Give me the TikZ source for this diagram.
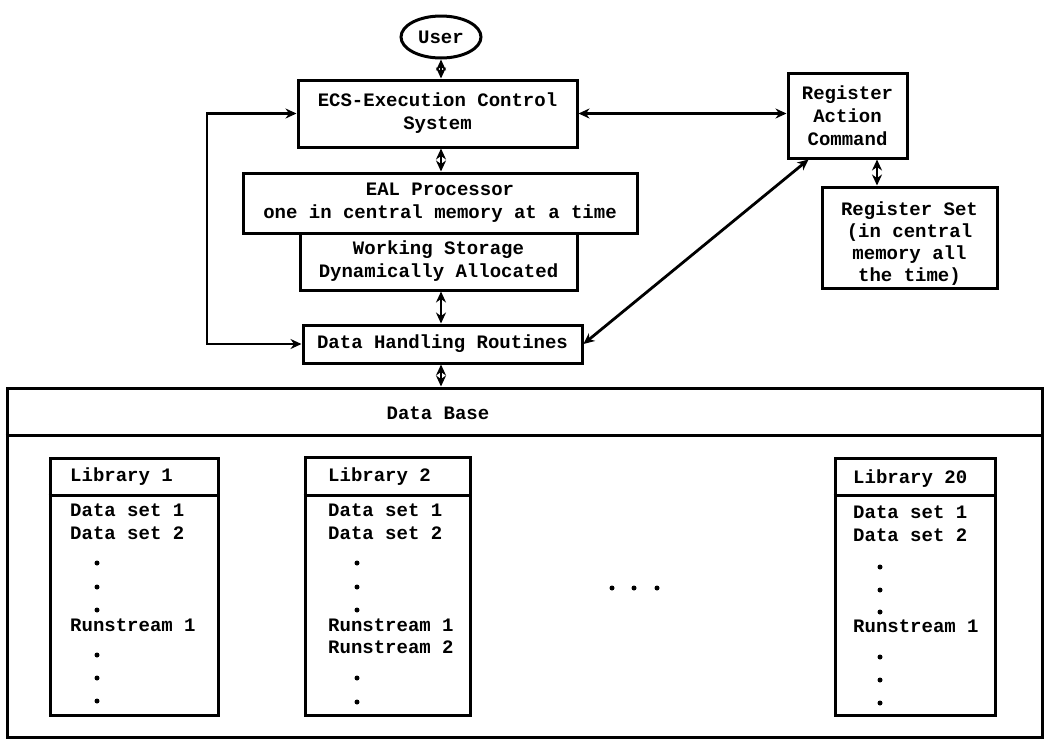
\documentclass[tikz,border=0pt]{standalone}
\usepackage{fontspec}
\setmainfont{Liberation Mono}
\usetikzlibrary{arrows.meta,shapes.geometric}
\begin{document}
\begin{tikzpicture}[x=1pt,y=-1pt,
  every node/.style={font=\fontsize{19}{23}\selectfont\bfseries},
  box/.style={draw, line width=3pt, rectangle, inner sep=0pt, align=center},
  txt/.style={inner sep=0pt, anchor=west, text height=0.72em, text depth=0.22em},
  link/.style={line width=2.8pt, {Stealth[length=11pt,width=10pt]}-{Stealth[length=11pt,width=10pt]}},
  rule/.style={line width=3pt},
  dotmark/.style={fill, circle, inner sep=0pt, minimum size=5pt}
]
\useasboundingbox (0,0) rectangle (1045,740);

% control chain
\node[box, ellipse, minimum width=80pt, minimum height=42pt] (user) at (441,37) {User};
\node[box, minimum width=279pt, minimum height=67pt] (ecs) at (437.5,113.5) {ECS-Execution Control\\System};
\node[box, minimum width=394pt, minimum height=60pt] (eal) at (440,203) {EAL Processor\\one in central memory at a time};
\node[box, minimum width=277pt, minimum height=57pt] (ws) at (438.5,261.5) {Working Storage\\Dynamically Allocated};
\node[box, minimum width=279pt, minimum height=38pt] (dhr) at (442.5,344) {Data Handling Routines};

% register side
\node[box, minimum width=119pt, minimum height=85pt] (rac) at (847.5,115.5) {Register\\Action\\Command};
\node[box, minimum width=175pt, minimum height=101pt] (rs) at (909.5,237.5) {};
\node[inner sep=0pt, align=center, font=\fontsize{19}{22}\selectfont\bfseries] (rstext) at (909.5,244)
  {Register Set\\(in central\\memory all\\the time)};

% data base
\node[box, minimum width=1035pt, minimum height=349pt] (db) at (524.5,562.5) {};
\coordinate (dbhead) at (0,435);
\draw[rule] (db.west |- dbhead) -- (db.east |- dbhead);
\node[inner sep=0pt] (dbtitle) at (438,413) {Data Base};

% libraries
\node[box, minimum width=168pt, minimum height=257pt] (lib1) at (134,586.5) {};
\node[box, minimum width=165pt, minimum height=258pt] (lib2) at (387.5,586) {};
\node[box, minimum width=160pt, minimum height=257pt] (lib20) at (915,586.5) {};
\coordinate (libhead) at (0,495);
\draw[rule] (lib1.west |- libhead) -- (lib1.east |- libhead);
\draw[rule] (lib2.west |- libhead) -- (lib2.east |- libhead);
\draw[rule] (lib20.west |- libhead) -- (lib20.east |- libhead);

% library 1 contents
\node[txt] (l1h) at (70,479) {Library 1};
\node[txt] (l1a) at (70,514) {Data set 1};
\node[txt] (l1b) at (70,537) {Data set 2};
\node[txt] (l1r) at (70,629) {Runstream 1};
\foreach \yy [count=\i] in {563,587,610,655,678,701}
  \node[dotmark] (l1d\i) at (97,\yy) {};

% library 2 contents
\node[txt] (l2h) at (328,479) {Library 2};
\node[txt] (l2a) at (328,514) {Data set 1};
\node[txt] (l2b) at (328,537) {Data set 2};
\node[txt] (l2r) at (328,629) {Runstream 1};
\node[txt] (l2s) at (328,651) {Runstream 2};
\foreach \yy [count=\i] in {563,587,610,678,702}
  \node[dotmark] (l2d\i) at (357,\yy) {};

% library 20 contents
\node[txt] (l3h) at (853,481) {Library 20};
\node[txt] (l3a) at (853,516) {Data set 1};
\node[txt] (l3b) at (853,539) {Data set 2};
\node[txt] (l3r) at (853,630) {Runstream 1};
\foreach \yy [count=\i] in {567,590,612,657,680,703}
  \node[dotmark] (l3d\i) at (880,\yy) {};

% ellipsis between libraries
\foreach \xx [count=\i] in {612,634,657}
  \node[dotmark] (gap\i) at (\xx,588) {};

% connectors
\coordinate (spine) at (441,0);
\coordinate (loop) at (207,0);
\coordinate (rlink) at (877,0);
\draw[link] (user.south) -- (spine |- ecs.north);
\draw[link] (spine |- ecs.south) -- (spine |- eal.north);
\draw[link] (spine |- ws.south) -- (spine |- dhr.north);
\draw[link] (spine |- dhr.south) -- (spine |- db.north);
\draw[link] (ecs.west) -- (loop |- ecs.west) |- (dhr.west);
\draw[link] (ecs.east) -- (ecs.east -| rac.west);
\draw[link] (dhr.east) -- ([xshift=22pt]rac.south west);
\draw[link] (rlink |- rac.south) -- (rlink |- rs.north);
\end{tikzpicture}
\end{document}
